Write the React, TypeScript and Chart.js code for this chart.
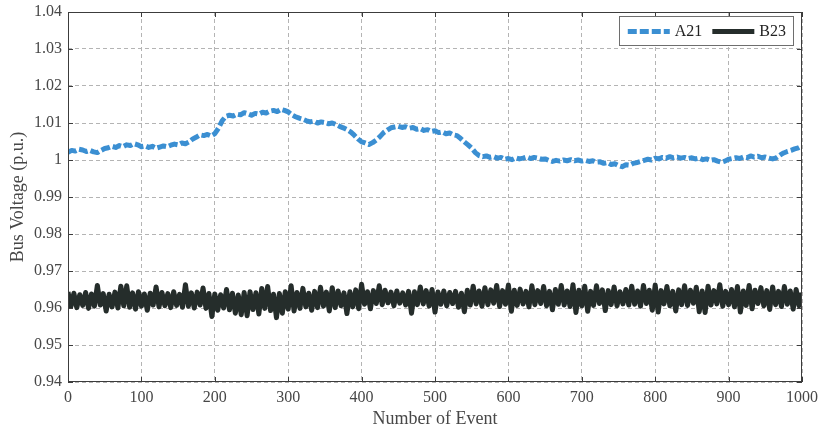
import { useEffect, useRef } from "react";
import { Chart, registerables } from "chart.js";

Chart.register(...registerables);

// Bus voltage (p.u.) recorded per event for two buses.
// A21 is sampled every 5 events, B23 every 4 events, starting at event 0.
const A21_EVENT_STEP = 5;
const B23_EVENT_STEP = 4;

const A21_VOLTAGE = [
  1.0021, 1.0026, 1.0024, 1.0029, 1.0027, 1.0023, 1.0026, 1.0022, 1.0020, 1.0026,
  1.0031, 1.0033, 1.0037, 1.0034, 1.0039, 1.0036, 1.0041, 1.0039, 1.0044, 1.0041,
  1.0036, 1.0038, 1.0034, 1.0037, 1.0032, 1.0035, 1.0038, 1.0036, 1.0040, 1.0043,
  1.0041, 1.0046, 1.0044, 1.0049, 1.0057, 1.0062, 1.0068, 1.0066, 1.0069, 1.0065,
  1.0071, 1.0086, 1.0106, 1.0118, 1.0121, 1.0119, 1.0124, 1.0122, 1.0128, 1.0125,
  1.0121, 1.0126, 1.0124, 1.0129, 1.0127, 1.0132, 1.0134, 1.0131, 1.0137, 1.0134,
  1.0130, 1.0122, 1.0117, 1.0113, 1.0110, 1.0106, 1.0103, 1.0105, 1.0100, 1.0103,
  1.0101, 1.0098, 1.0100, 1.0096, 1.0091, 1.0087, 1.0082, 1.0076, 1.0067, 1.0057,
  1.0049, 1.0046, 1.0042, 1.0047, 1.0054, 1.0063, 1.0074, 1.0081, 1.0087, 1.0089,
  1.0091, 1.0088, 1.0090, 1.0086, 1.0088, 1.0083, 1.0085, 1.0080, 1.0082, 1.0077,
  1.0079, 1.0074, 1.0076, 1.0071, 1.0073, 1.0068, 1.0066, 1.0058, 1.0049, 1.0041,
  1.0032, 1.0020, 1.0012, 1.0009, 1.0011, 1.0007, 1.0009, 1.0005, 1.0007, 1.0002,
  1.0004, 1.0001, 1.0006, 1.0003, 1.0005, 1.0008, 1.0004, 1.0007, 1.0005, 1.0002,
  1.0003, 0.9999, 0.9996, 0.9999, 0.9997, 1.0000, 0.9998, 1.0001, 0.9998, 1.0000,
  0.9997, 0.9999, 0.9996, 0.9998, 0.9994, 0.9995, 0.9991, 0.9993, 0.9988, 0.9990,
  0.9985, 0.9982, 0.9987, 0.9986, 0.9991, 0.9993, 0.9996, 0.9999, 1.0002, 1.0000,
  1.0005, 1.0003, 1.0007, 1.0005, 1.0009, 1.0006, 1.0008, 1.0005, 1.0007, 1.0004,
  1.0006, 1.0003, 1.0005, 1.0001, 1.0003, 0.9999, 1.0001, 0.9997, 0.9994, 0.9997,
  1.0002, 1.0004, 1.0006, 1.0004, 1.0008, 1.0006, 1.0011, 1.0008, 1.0010, 1.0006,
  1.0008, 1.0005, 1.0003, 1.0006, 1.0013, 1.0019, 1.0023, 1.0026, 1.0030, 1.0033,
  1.0038,
];

const B23_VOLTAGE = [
  0.9643, 0.9604, 0.9640, 0.9601, 0.9636, 0.9607, 0.9642, 0.9599, 0.9638, 0.9605,
  0.9661, 0.9608, 0.9639, 0.9592, 0.9637, 0.9603, 0.9643, 0.9600, 0.9659, 0.9606,
  0.9660, 0.9602, 0.9641, 0.9597, 0.9644, 0.9605, 0.9638, 0.9594, 0.9640, 0.9608,
  0.9657, 0.9603, 0.9642, 0.9606, 0.9639, 0.9601, 0.9644, 0.9607, 0.9637, 0.9602,
  0.9663, 0.9605, 0.9641, 0.9600, 0.9643, 0.9608, 0.9654, 0.9599, 0.9639, 0.9577,
  0.9638, 0.9594, 0.9636, 0.9600, 0.9650, 0.9595, 0.9640, 0.9586, 0.9635, 0.9582,
  0.9642, 0.9579, 0.9644, 0.9596, 0.9641, 0.9584, 0.9653, 0.9599, 0.9658, 0.9593,
  0.9637, 0.9574, 0.9639, 0.9586, 0.9644, 0.9597, 0.9660, 0.9592, 0.9642, 0.9599,
  0.9653, 0.9603, 0.9640, 0.9594, 0.9645, 0.9601, 0.9656, 0.9605, 0.9643, 0.9592,
  0.9655, 0.9601, 0.9646, 0.9606, 0.9641, 0.9585, 0.9644, 0.9603, 0.9649, 0.9598,
  0.9664, 0.9610, 0.9644, 0.9598, 0.9647, 0.9612, 0.9660, 0.9609, 0.9648, 0.9614,
  0.9643, 0.9606, 0.9646, 0.9613, 0.9641, 0.9608, 0.9645, 0.9586, 0.9644, 0.9609,
  0.9657, 0.9611, 0.9647, 0.9605, 0.9650, 0.9589, 0.9643, 0.9610, 0.9646, 0.9606,
  0.9642, 0.9612, 0.9645, 0.9602, 0.9640, 0.9590, 0.9648, 0.9608, 0.9659, 0.9611,
  0.9646, 0.9605, 0.9655, 0.9609, 0.9649, 0.9613, 0.9661, 0.9604, 0.9647, 0.9610,
  0.9662, 0.9591, 0.9648, 0.9607, 0.9651, 0.9611, 0.9645, 0.9603, 0.9660, 0.9609,
  0.9647, 0.9612, 0.9658, 0.9606, 0.9645, 0.9595, 0.9650, 0.9610, 0.9661, 0.9608,
  0.9646, 0.9604, 0.9663, 0.9588, 0.9648, 0.9606, 0.9659, 0.9591, 0.9645, 0.9607,
  0.9660, 0.9612, 0.9649, 0.9593, 0.9647, 0.9609, 0.9657, 0.9606, 0.9644, 0.9611,
  0.9650, 0.9608, 0.9659, 0.9610, 0.9646, 0.9605, 0.9661, 0.9612, 0.9648, 0.9594,
  0.9662, 0.9589, 0.9647, 0.9611, 0.9658, 0.9606, 0.9645, 0.9592, 0.9649, 0.9609,
  0.9660, 0.9607, 0.9648, 0.9613, 0.9656, 0.9590, 0.9646, 0.9588, 0.9659, 0.9608,
  0.9647, 0.9611, 0.9663, 0.9605, 0.9645, 0.9609, 0.9650, 0.9603, 0.9658, 0.9589,
  0.9646, 0.9607, 0.9661, 0.9598, 0.9648, 0.9612, 0.9655, 0.9606, 0.9647, 0.9596,
  0.9657, 0.9609, 0.9645, 0.9604, 0.9658, 0.9610, 0.9646, 0.9597, 0.9650, 0.9606,
  0.9641,
];

const SERIES_LABELS = ["A21", "B23"];
const X_RANGE = [0, 1000];
const X_TICK_STEP = 100;
const Y_RANGE = [0.94, 1.04];
const Y_TICK_STEP = 0.01;

const FONT_FAMILY = '"Liberation Serif", "Times New Roman", "DejaVu Serif", serif';
const A21_COLOR = "#3b8fd2";
const B23_COLOR = "#252d2b";
const AXIS_COLOR = "#3c3c3c";
const TEXT_COLOR = "#474747";
const GRID_COLOR = "#b4b4b4";

const toPoints = (values: number[], step: number) =>
  values.map((v, i) => ({ x: i * step, y: v }));

// Box around the plot area plus short inward tick marks on all four sides.
const framePlugin = {
  id: "frameWithInnerTicks",
  afterDatasetsDraw(chart: any) {
    const { ctx, chartArea, scales } = chart;
    const { left, right, top, bottom } = chartArea;
    ctx.save();
    ctx.strokeStyle = AXIS_COLOR;
    ctx.lineWidth = 1;
    ctx.strokeRect(left + 0.5, top + 0.5, right - left - 1, bottom - top - 1);
    const len = 5;
    ctx.beginPath();
    for (const t of scales.x.ticks) {
      const px = Math.round(scales.x.getPixelForValue(t.value)) + 0.5;
      ctx.moveTo(px, bottom);
      ctx.lineTo(px, bottom - len);
      ctx.moveTo(px, top);
      ctx.lineTo(px, top + len);
    }
    for (const t of scales.y.ticks) {
      const py = Math.round(scales.y.getPixelForValue(t.value)) + 0.5;
      ctx.moveTo(left, py);
      ctx.lineTo(left + len, py);
      ctx.moveTo(right, py);
      ctx.lineTo(right - len, py);
    }
    ctx.stroke();
    ctx.restore();
  },
};

// Legend boxed inside the upper-right corner of the plot area.
const insideLegendPlugin = {
  id: "insideLegend",
  afterDraw(chart: any) {
    const { ctx, chartArea } = chart;
    const datasets = chart.data.datasets;
    ctx.save();
    ctx.font = `16px ${FONT_FAMILY}`;
    const sample = 42;
    const gapText = 5;
    const gapItem = 10;
    const padL = 9;
    const padR = 7;
    const boxH = 29;
    let width = padL + padR;
    datasets.forEach((ds: any, i: number) => {
      width += sample + gapText + ctx.measureText(ds.label).width;
      if (i < datasets.length - 1) width += gapItem;
    });
    const boxR = chartArea.right - 9;
    const boxL = boxR - width;
    const boxT = chartArea.top + 4;
    ctx.fillStyle = "#ffffff";
    ctx.fillRect(boxL, boxT, width, boxH);
    ctx.strokeStyle = "#6e6e6e";
    ctx.lineWidth = 1;
    ctx.strokeRect(Math.round(boxL) + 0.5, boxT + 0.5, Math.round(width), boxH);
    const cy = boxT + boxH / 2 + 1;
    let x = boxL + padL;
    datasets.forEach((ds: any) => {
      ctx.beginPath();
      ctx.strokeStyle = ds.borderColor;
      ctx.lineWidth = Math.min(ds.borderWidth, 5);
      ctx.setLineDash(ds.borderDash || []);
      ctx.moveTo(x, cy);
      ctx.lineTo(x + sample, cy);
      ctx.stroke();
      ctx.setLineDash([]);
      x += sample + gapText;
      ctx.fillStyle = "#222";
      ctx.textBaseline = "middle";
      ctx.textAlign = "left";
      ctx.fillText(ds.label, x, cy);
      x += ctx.measureText(ds.label).width + gapItem;
    });
    ctx.restore();
  },
};

export default function App() {
  const canvasRef = useRef<HTMLCanvasElement | null>(null);

  useEffect(() => {
    const canvas = canvasRef.current;
    if (!canvas) return;
    const chart = new Chart(canvas, {
      type: "line",
      data: {
        datasets: [
          {
            label: SERIES_LABELS[0],
            data: toPoints(A21_VOLTAGE, A21_EVENT_STEP),
            borderColor: A21_COLOR,
            backgroundColor: A21_COLOR,
            borderWidth: 5,
            borderDash: [9, 3],
            borderJoinStyle: "round",
            pointRadius: 0,
            tension: 0,
          },
          {
            label: SERIES_LABELS[1],
            data: toPoints(B23_VOLTAGE, B23_EVENT_STEP),
            borderColor: B23_COLOR,
            backgroundColor: B23_COLOR,
            borderWidth: 5,
            borderJoinStyle: "round",
            pointRadius: 0,
            tension: 0,
          },
        ],
      },
      options: {
        responsive: false,
        animation: false,
        devicePixelRatio: 1,
        layout: { padding: { top: 12, right: 17, left: 0, bottom: 0 } },
        plugins: {
          legend: { display: false },
          tooltip: { enabled: false },
        },
        scales: {
          x: {
            type: "linear",
            min: X_RANGE[0],
            max: X_RANGE[1],
            afterFit: (scale: any) => {
              scale.height = 49;
              scale.paddingLeft = 0;
              scale.paddingRight = 0;
            },
            ticks: {
              stepSize: X_TICK_STEP,
              autoSkip: false,
              maxRotation: 0,
              padding: 6,
              color: TEXT_COLOR,
              font: { family: FONT_FAMILY, size: 16 },
              callback: (v: any) => String(v),
            },
            grid: { color: GRID_COLOR, lineWidth: 1, drawTicks: false },
            border: { display: false, dash: [4, 3] },
            title: {
              display: true,
              text: "Number of Event",
              color: TEXT_COLOR,
              font: { family: FONT_FAMILY, size: 18 },
              padding: { top: 0, bottom: 1 },
            },
          },
          y: {
            type: "linear",
            min: Y_RANGE[0],
            max: Y_RANGE[1],
            afterFit: (scale: any) => {
              scale.width = 68;
              scale.paddingTop = 0;
              scale.paddingBottom = 0;
            },
            ticks: {
              stepSize: Y_TICK_STEP,
              padding: 6,
              color: TEXT_COLOR,
              font: { family: FONT_FAMILY, size: 16 },
              callback: (v: any) => String(Number(Number(v).toFixed(2))),
            },
            grid: { color: GRID_COLOR, lineWidth: 1, drawTicks: false },
            border: { display: false, dash: [4, 3] },
            title: {
              display: true,
              text: "Bus Voltage (p.u.)",
              color: TEXT_COLOR,
              font: { family: FONT_FAMILY, size: 18 },
              padding: { top: 7, bottom: 0 },
            },
          },
        },
      },
      plugins: [framePlugin, insideLegendPlugin],
    } as any);
    return () => chart.destroy();
  }, []);

  return (
    <div
      style={{
        position: "fixed",
        left: 0,
        top: 0,
        width: 819,
        height: 431,
        background: "#ffffff",
      }}
    >
      <canvas ref={canvasRef} width={819} height={431} style={{ display: "block" }} />
    </div>
  );
}
